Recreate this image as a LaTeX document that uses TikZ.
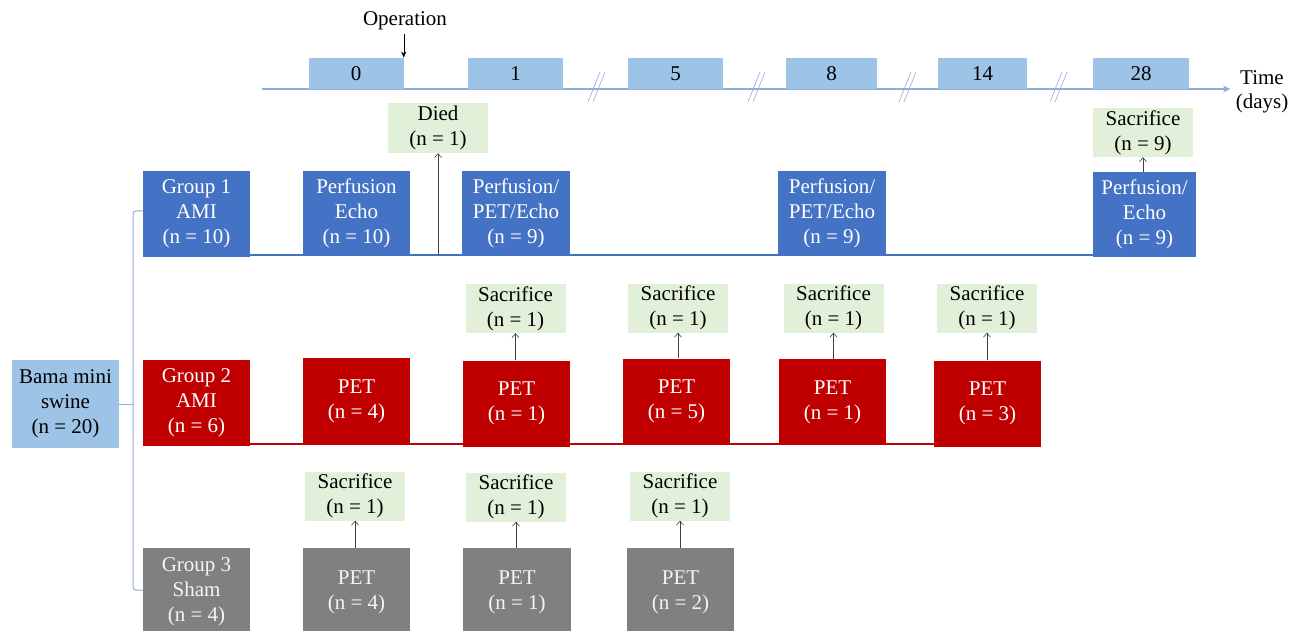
\documentclass[tikz,border=0pt]{standalone}
\usepackage{fontspec}
\setmainfont{Liberation Serif}
\usetikzlibrary{arrows.meta}
\definecolor{amiblue}{HTML}{4472C4}
\definecolor{amired}{HTML}{C00000}
\definecolor{shamgray}{HTML}{808080}
\definecolor{dayblue}{HTML}{9DC3E6}
\definecolor{linkblue}{HTML}{8FAADC}
\definecolor{notegreen}{HTML}{E2F0D9}
\definecolor{ink}{HTML}{404040}
\tikzset{
  box/.style={align=center,inner sep=0pt,text=white,font=\fontsize{21}{25}\selectfont,
    minimum width=107pt,minimum height=86pt},
  amione/.style={box,fill=amiblue},
  amitwo/.style={box,fill=amired},
  sham/.style={box,fill=shamgray,text=white!92!gray},
  day/.style={fill=dayblue,minimum width=95pt,minimum height=31pt,inner sep=0pt,anchor=south,
    font=\fontsize{21}{22}\selectfont},
  note/.style={fill=notegreen,align=center,minimum width=100pt,minimum height=49pt,inner sep=0pt,
    font=\fontsize{21}{25}\selectfont},
  arr/.style={-{Straight Barb[length=4pt,width=7pt]},draw=ink,semithick},
  link/.style={draw=linkblue,line width=1pt}
}

\begin{document}
\begin{tikzpicture}[x=1pt,y=-1pt]
 \useasboundingbox (0,0) rectangle (1296,631);

 % time axis
 \coordinate (tstart) at (262,89);
 \coordinate (tend) at (1230,89);
 \draw[link,line width=1.8pt,-{Stealth[length=7pt,width=7pt]}] (tstart) -- (tend);
 \node[day] (d0) at (356,89) {0};
 \node[day] (d1) at (515.5,89) {1};
 \node[day] (d5) at (675.5,89) {5};
 \node[day,minimum width=91pt] (d8) at (831.5,89) {8};
 \node[day,minimum width=89pt] (d14) at (982.5,89) {14};
 \node[day,minimum width=96pt] (d28) at (1141,89) {28};
 \foreach \x in {597,757,908,1059}{
   \draw[link,line width=.6pt] (\x-9,102) -- (\x+3,72);
   \draw[link,line width=.6pt] (\x-4,102) -- (\x+8,72);
 }
 \node[align=center,font=\fontsize{21}{24}\selectfont] (time) at (1262,92) {Time\\(days)};
 \node[font=\fontsize{21}{22}\selectfont] (op) at (405,21) {Operation};
 \draw[draw=black,-{Stealth[length=6pt,width=5pt]}] (d0.north east |- op.south) -- (d0.north east);

 % start
 \node[box,fill=dayblue,text=black,minimum height=88pt] (bama) at (65.5,404) {Bama mini\\swine\\(n = 20)};
 \coordinate (br) at (133,404);

 % group 1
 \draw[amiblue,line width=1.5pt] (250,255) -- (1130,255);
 \node[amione] (g1) at (196.5,214) {Group 1\\AMI\\(n = 10)};
 \node[amione,minimum height=84pt] (e0) at (356.5,213) {Perfusion\\Echo\\(n = 10)};
 \node[amione,minimum width=108pt,minimum height=84pt] (e1) at (516,213) {Perfusion/\\PET/Echo\\(n = 9)};
 \node[amione,minimum width=108pt,minimum height=84pt] (e8) at (832,213) {Perfusion/\\PET/Echo\\(n = 9)};
 \node[amione,minimum width=103pt,minimum height=85pt] (e28) at (1144.5,214.5) {Perfusion/\\Echo\\(n = 9)};
 \node[note,minimum height=50pt] (died) at (438,128) {Died\\(n = 1)};
 \node[note] (sac28) at (1143,132.5) {Sacrifice\\(n = 9)};
 \draw[arr] (died.south |- e0.south) -- (died.south);
 \draw[arr] (sac28.south |- e28.north) -- (sac28.south);

 % group 2
 \draw[amired,line width=1.5pt] (250,444) -- (1041,444);
 \node[amitwo] (g2) at (196.5,403) {Group 2\\AMI\\(n = 6)};
 \node[amitwo] (p0) at (356.5,401) {PET\\(n = 4)};
 \node[amitwo] (p1) at (516.5,403.5) {PET\\(n = 1)};
 \node[amitwo] (p5) at (676.5,401.5) {PET\\(n = 5)};
 \node[amitwo] (p8) at (832.5,402) {PET\\(n = 1)};
 \node[amitwo] (p14) at (987.5,403.5) {PET\\(n = 3)};
 \node[note] (s1) at (515.5,308.5) {Sacrifice\\(n = 1)};
 \node[note] (s5) at (678,308) {Sacrifice\\(n = 1)};
 \node[note] (s8) at (833.5,308) {Sacrifice\\(n = 1)};
 \node[note] (s14) at (987,308) {Sacrifice\\(n = 1)};
 \foreach \a/\b in {p1/s1,p5/s5,p8/s8,p14/s14}
   \draw[arr] (\b.south |- \a.north) -- (\b.south);

 % group 3
 \node[sham,minimum height=88pt] (g3) at (196.5,592) {Group 3\\Sham\\(n = 4)};
 \node[sham,minimum height=88pt] (q0) at (356.5,592) {PET\\(n = 4)};
 \node[sham,minimum width=108pt,minimum height=88pt] (q1) at (517,592) {PET\\(n = 1)};
 \node[sham,minimum height=88pt] (q5) at (680.5,592) {PET\\(n = 2)};
 \node[note] (r0) at (355,496) {Sacrifice\\(n = 1)};
 \node[note] (r1) at (516,497) {Sacrifice\\(n = 1)};
 \node[note] (r5) at (680,496) {Sacrifice\\(n = 1)};
 \foreach \a/\b in {q0/r0,q1/r1,q5/r5}
   \draw[arr] (\b.south |- \a.north) -- (\b.south);

 % bracket
 \draw[link,rounded corners=3pt] ([yshift=3]g1.west) -| (br) |- ([yshift=2]g3.west);
 \draw[link] (bama.east) -- (br);
\end{tikzpicture}
\end{document}
